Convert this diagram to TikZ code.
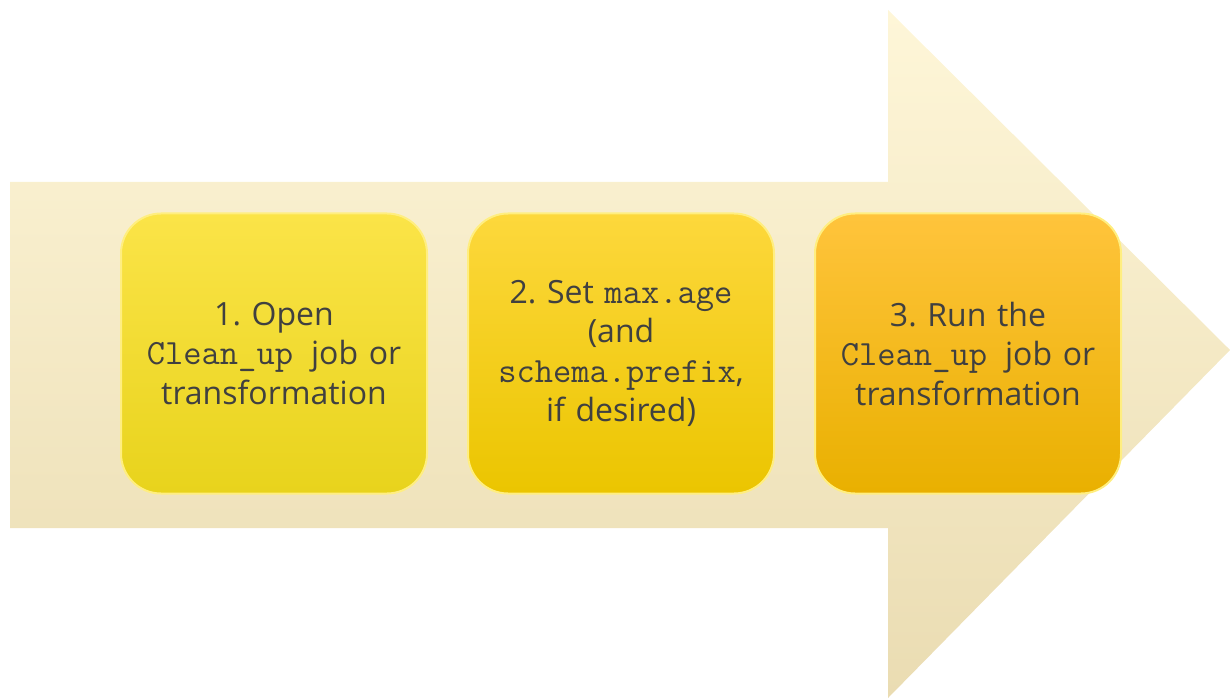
\documentclass[tikz,border=0pt]{standalone}
\usepackage{fontspec}
\setmainfont{Open Sans}
\frenchspacing
\begin{document}
\definecolor{arrowtop}{HTML}{FEF6D8}
\definecolor{arrowbot}{HTML}{EADCB2}
\definecolor{txt}{HTML}{404040}
\definecolor{aT}{HTML}{FBE448}
\definecolor{aB}{HTML}{E8D31C}
\definecolor{bT}{HTML}{FDD83C}
\definecolor{bB}{HTML}{EBC500}
\definecolor{cT}{HTML}{FFC43C}
\definecolor{cB}{HTML}{E9B000}
\definecolor{rim}{HTML}{FFEE80}
\newcommand{\cd}[1]{{\fontsize{35.5}{39}\ttfamily #1}}
\begin{tikzpicture}[x=1pt,y=-1pt,
  stepbox/.style={rounded corners=40pt, minimum width=306pt, minimum height=280pt,
    inner sep=0pt, draw=rim, line width=2pt},
  steptext/.style={text width=304pt, align=center, text=txt, font=\fontsize{32}{39.5}\selectfont, inner sep=0pt}]
\useasboundingbox (0,0) rectangle (1230,700);
\shade[top color=arrowtop, bottom color=arrowbot]
  (10,182) -- (888,182) -- (888,10) -- (1230,350) -- (888,698) -- (888,528) -- (10,528) -- cycle;
\node[stepbox, top color=aT, bottom color=aB] (b1) at (274,353.5) {};
\node[stepbox, top color=bT, bottom color=bB] (b2) at (621,353.5) {};
\node[stepbox, top color=cT, bottom color=cB] (b3) at (968,353.5) {};
\node[steptext] (t1) at (b1) {1. Open\\\cd{Clean\_up}\hspace{18pt}job or\\transformation};
\node[steptext] (t2) at (b2) {2. Set \cd{max.age}\\(and\\\cd{schema.prefix},\\if desired)};
\node[steptext] (t3) at (b3) {3. Run the\\\cd{Clean\_up}\hspace{18pt}job or\\transformation};
\end{tikzpicture}
\end{document}
